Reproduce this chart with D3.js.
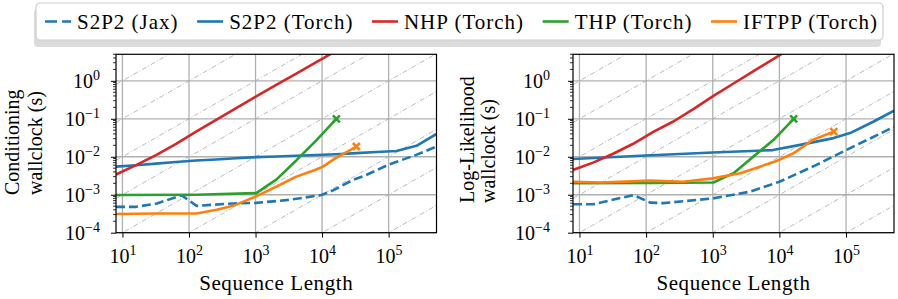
<!DOCTYPE html>
<html>
<head>
<meta charset="utf-8">
<script src="https://cdn.jsdelivr.net/npm/d3@7"></script>
<style>
  body { margin: 0; background: #fff; }
  text { font-family: "Liberation Serif", serif; fill: #000; }
</style>
</head>
<body>
<svg id="chart"></svg>
<script>
const width = 898;
const height = 299;

// legend / series
const seriesNames = ['S2P2 (Jax)', 'S2P2 (Torch)', 'NHP (Torch)', 'THP (Torch)', 'IFTPP (Torch)'];
const seriesColors = ['#1f77b4', '#1f77b4', '#d62728', '#2ca02c', '#ff7f0e'];
const seriesDashed = [true, false, false, false, false];
const seriesEndMark = [false, false, false, true, true];

// tick values
const xTicks = [1e1, 1e2, 1e3, 1e4, 1e5];
const yTicks = [1e-4, 1e-3, 1e-2, 1e-1, 1e0];
const xDomain = [8, 524288];
const yDomain = [1e-4, 5];

// Conditioning wallclock (s) -- left panel
const condJax = [[8, 4.8e-4], [16, 4.8e-4], [33, 5.9e-4], [78, 9.6e-4], [130, 5.1e-4], [460, 5.9e-4],
  [1024, 6.1e-4], [2900, 7.2e-4], [9800, 9.8e-4], [14600, 1.3e-3], [29000, 2.45e-3], [46000, 3.3e-3],
  [100000, 6.2e-3], [260000, 1.12e-2], [524288, 1.86e-2]];
const condTorch = [[8, 5.5e-3], [16, 6.0e-3], [32, 6.6e-3], [64, 7.3e-3], [128, 8.0e-3], [256, 8.5e-3],
  [512, 9.1e-3], [1024, 9.8e-3], [2048, 1.02e-2], [4096, 1.06e-2], [8192, 1.11e-2], [16384, 1.17e-2],
  [32768, 1.25e-2], [65536, 1.33e-2], [131072, 1.42e-2], [262144, 1.95e-2], [524288, 4.0e-2]];
const condNHP = [[8, 3.4e-3], [16, 6.0e-3], [32, 1.1e-2], [64, 2.2e-2], [128, 4.6e-2], [256, 9.3e-2],
  [512, 0.19], [1024, 0.39], [2048, 0.78], [4096, 1.55], [8192, 3.1], [16384, 6.2]];
const condTHP = [[8, 9.8e-4], [128, 1.0e-3], [1024, 1.1e-3], [2048, 2.5e-3], [4096, 8.0e-3],
  [8192, 2.7e-2], [16384, 0.1]];
const condIFTPP = [[8, 3.1e-4], [32, 3.2e-4], [130, 3.2e-4], [260, 4.0e-4], [460, 5.1e-4], [1000, 8.9e-4],
  [2000, 1.6e-3], [4100, 3.0e-3], [7800, 4.5e-3], [10300, 5.5e-3], [16000, 9.2e-3], [32768, 1.86e-2]];

// Log-Likelihood wallclock (s) -- right panel
const llJax = [[8, 5.6e-4], [16, 5.6e-4], [65, 9.8e-4], [115, 6.2e-4], [180, 6.0e-4], [1000, 8.0e-4],
  [3600, 1.2e-3], [10000, 2.2e-3], [36000, 6.1e-3], [100000, 1.5e-2], [524288, 6.1e-2]];
const llTorch = [[8, 8.7e-3], [100, 1.08e-2], [1000, 1.3e-2], [8000, 1.5e-2], [20500, 2.06e-2],
  [65000, 3.1e-2], [115000, 4.2e-2], [260000, 8.5e-2], [524288, 0.163]];
const llNHP = [[8, 4.5e-3], [16, 7.0e-3], [32, 1.2e-2], [64, 2.2e-2], [128, 4.5e-2], [256, 8.5e-2],
  [512, 0.18], [1024, 0.4], [2048, 0.85], [4096, 1.8], [8192, 3.8], [16384, 8.0]];
const llTHP = [[8, 2.0e-3], [128, 2.05e-3], [1024, 2.1e-3], [2048, 3.7e-3], [8192, 2.8e-2], [16384, 0.1]];
const llIFTPP = [[8, 2.2e-3], [21, 2.1e-3], [115, 2.35e-3], [364, 2.2e-3], [1000, 2.7e-3], [2600, 3.7e-3],
  [8700, 7.5e-3], [16400, 1.25e-2], [32000, 2.8e-2], [65536, 4.6e-2]];

const panels = [
  { left: 116, right: 436.5, tickPad: 16, ylabel: ['Conditioning', 'wallclock (s)'], labelX: [19, 42], labelStart: 195,
    series: [condJax, condTorch, condNHP, condTHP, condIFTPP] },
  { left: 573, right: 894, tickPad: 23, ylabel: ['Log-Likelihood', 'wallclock (s)'], labelX: [474, 495], labelStart: 203,
    series: [llJax, llTorch, llNHP, llTHP, llIFTPP] }
];
const plotTop = 54.3, plotBottom = 232.7;

const svg = d3.select('#chart')
  .attr('width', width)
  .attr('height', height);

function powLabel(sel, v) {
  const e = Math.round(Math.log10(v));
  sel.append('tspan').text('10');
  sel.append('tspan')
    .attr('font-size', 14)
    .attr('dy', -8)
    .text(String(e).replace('-', '\u2212'));
}

panels.forEach((p, pi) => {
  const x = d3.scaleLog().domain(xDomain).range([p.left, p.right]);
  const y = d3.scaleLog().domain(yDomain).range([plotBottom, plotTop]);
  const g = svg.append('g');

  const clipId = 'clip' + pi;
  svg.append('clipPath').attr('id', clipId)
    .append('rect')
    .attr('x', p.left).attr('y', plotTop)
    .attr('width', p.right - p.left).attr('height', plotBottom - plotTop);

  // grid
  g.selectAll('.gx').data(xTicks).enter().append('line')
    .attr('x1', d => x(d)).attr('x2', d => x(d))
    .attr('y1', plotTop).attr('y2', plotBottom)
    .attr('stroke', '#b0b0b0').attr('stroke-width', 1.3);
  g.selectAll('.gy').data(yTicks).enter().append('line')
    .attr('x1', p.left).attr('x2', p.right)
    .attr('y1', d => y(d)).attr('y2', d => y(d))
    .attr('stroke', '#b0b0b0').attr('stroke-width', 1.3);

  // linear reference lines y = c * n
  const refs = d3.range(-12, 1);
  const plot = g.append('g').attr('clip-path', `url(#${clipId})`);
  plot.selectAll('.ref').data(refs).enter().append('line')
    .attr('x1', x(xDomain[0])).attr('y1', d => y(Math.pow(10, d) * xDomain[0]))
    .attr('x2', x(xDomain[1])).attr('y2', d => y(Math.pow(10, d) * xDomain[1]))
    .attr('stroke', '#a8a8a8').attr('stroke-width', 0.8)
    .attr('stroke-dasharray', '5,2,1,2');

  // series
  const line = d3.line().x(d => x(d[0])).y(d => y(d[1]));
  p.series.forEach((data, i) => {
    plot.append('path')
      .datum(data)
      .attr('d', line)
      .attr('fill', 'none')
      .attr('stroke', seriesColors[i])
      .attr('stroke-width', 2.6)
      .attr('stroke-linejoin', 'round')
      .attr('stroke-dasharray', seriesDashed[i] ? '9,4' : null);
    if (seriesEndMark[i]) {
      const last = data[data.length - 1];
      const cx = x(last[0]), cy = y(last[1]), s = 3.5;
      g.append('path')
        .attr('d', `M${cx - s},${cy - s}L${cx + s},${cy + s}M${cx - s},${cy + s}L${cx + s},${cy - s}`)
        .attr('stroke', seriesColors[i])
        .attr('stroke-width', 2.6);
    }
  });

  // axes
  const xAxis = d3.axisBottom(x).tickValues(xTicks).tickSize(5).tickFormat('');
  const xg = g.append('g').attr('transform', `translate(0,${plotBottom})`).call(xAxis);
  xg.select('.domain').remove();
  xg.selectAll('line').attr('stroke', '#000').attr('stroke-width', 1);
  xg.selectAll('.tick').append('text')
    .attr('y', 30.5)
    .attr('text-anchor', 'middle')
    .attr('font-size', 20)
    .each(function(d) { powLabel(d3.select(this), d); });

  const minor = [];
  for (let e = -4; e <= 0; e++) {
    for (let m = 2; m <= 9; m++) {
      const v = m * Math.pow(10, e);
      if (v >= yDomain[0] && v <= yDomain[1]) minor.push(v);
    }
  }
  g.selectAll('.ymin').data(minor).enter().append('line')
    .attr('x1', p.left - 3).attr('x2', p.left)
    .attr('y1', d => y(d)).attr('y2', d => y(d))
    .attr('stroke', '#000').attr('stroke-width', 0.8);

  const yAxis = d3.axisLeft(y).tickValues(yTicks).tickSize(5).tickFormat('');
  const yg = g.append('g').attr('transform', `translate(${p.left},0)`).call(yAxis);
  yg.select('.domain').remove();
  yg.selectAll('line').attr('stroke', '#000').attr('stroke-width', 1);
  yg.selectAll('.tick').append('text')
    .attr('x', -p.tickPad)
    .attr('y', 7)
    .attr('text-anchor', 'end')
    .attr('font-size', 20)
    .each(function(d) { powLabel(d3.select(this), d); });

  g.append('rect')
    .attr('x', p.left).attr('y', plotTop)
    .attr('width', p.right - p.left).attr('height', plotBottom - plotTop)
    .attr('fill', 'none').attr('stroke', '#000').attr('stroke-width', 1.2);

  // labels
  g.append('text')
    .attr('x', (p.left + p.right) / 2).attr('y', 290)
    .attr('text-anchor', 'middle').attr('font-size', 21)
    .attr('letter-spacing', 0.6)
    .text('Sequence Length');
  p.ylabel.forEach((t, k) => {
    g.append('text')
      .attr('transform', `translate(${p.labelX[k]},${p.labelStart}) rotate(-90)`)
      .attr('text-anchor', 'start').attr('font-size', 20)
      .text(t);
  });
});

// legend
const leg = svg.append('g');
leg.append('rect')
  .attr('x', 34).attr('y', 9).attr('width', 847).attr('height', 38).attr('rx', 4)
  .attr('fill', '#dcdcdc');
leg.append('rect')
  .attr('x', 36).attr('y', 3).attr('width', 847).attr('height', 37).attr('rx', 4)
  .attr('fill', '#fff').attr('stroke', '#cccccc').attr('stroke-width', 1.2);

const handleLen = 26, handleGap = 6;
const itemX0 = 45, itemX1 = 878;
const texts = seriesNames.map(name => leg.append('text')
  .attr('y', 29)
  .attr('font-size', 21)
  .attr('letter-spacing', 1)
  .text(name));
const widths = texts.map(t => t.node().getComputedTextLength());
const colGap = (itemX1 - itemX0 - d3.sum(widths) - seriesNames.length * (handleLen + handleGap)) / (seriesNames.length - 1);
let lx = itemX0;
seriesNames.forEach((name, i) => {
  leg.append('line')
    .attr('x1', lx).attr('x2', lx + handleLen).attr('y1', 21.5).attr('y2', 21.5)
    .attr('stroke', seriesColors[i]).attr('stroke-width', 2.6)
    .attr('stroke-dasharray', seriesDashed[i] ? '12,5' : null);
  texts[i].attr('x', lx + handleLen + handleGap);
  lx += handleLen + handleGap + widths[i] + colGap;
});
</script>
</body>
</html>
